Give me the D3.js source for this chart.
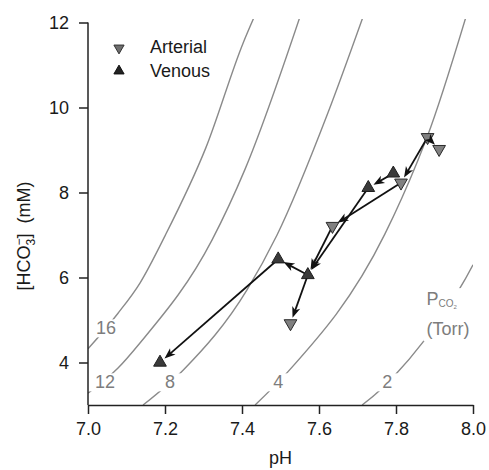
<!DOCTYPE html>
<html>
<head>
<meta charset="utf-8">
<script src="https://cdn.jsdelivr.net/npm/d3@7"></script>
<style>
body { margin: 0; background: #fff; }
svg { font-family: "Liberation Sans", Arial, sans-serif; }
</style>
</head>
<body>
<svg id="chart" width="489" height="470"></svg>
<script>
// samples
var artPH   = [7.882, 7.912, 7.813, 7.635, 7.526];
var artHCO3 = [9.30, 9.02, 8.23, 7.21, 4.92];
var venPH   = [7.793, 7.728, 7.494, 7.571, 7.187];
var venHCO3 = [8.45, 8.11, 6.43, 6.06, 4.00];

// arrows: a = arterial index, v = venous index
var arrowFrom = ["a0", "a0", "v0", "a2", "v1", "a3", "v3", "v3", "v2"];
var arrowTo   = ["a1", "a2", "v1", "a3", "v3", "v3", "v2", "a4", "v4"];

// PCO2 isopleths, points [pH, HCO3]
var pco2Levels = ["16", "12", "8", "4", "2"];
var iso16 = [[7.0, 4.32], [7.078, 5.16], [7.135, 5.87], [7.2, 6.98], [7.306, 9.05], [7.403, 11.52], [7.435, 12.2]];
var iso12 = [[7.0, 3.28], [7.078, 3.87], [7.135, 4.46], [7.322, 6.88], [7.408, 8.55], [7.553, 12.2]];
var iso8  = [[7.143, 3.0], [7.247, 3.82], [7.413, 5.71], [7.491, 7.0], [7.623, 9.87], [7.717, 12.2]];
var iso4  = [[7.434, 3.0], [7.519, 3.78], [7.771, 7.02], [7.857, 8.76], [7.881, 9.31], [7.984, 12.2]];
var iso2  = [[7.712, 3.0], [7.745, 3.24], [7.797, 3.70], [7.870, 4.48], [7.979, 5.95], [8.0, 6.30]];
var pco2LabelPH   = [7.047, 7.044, 7.213, 7.494, 7.777];
var pco2LabelHCO3 = [4.81, 3.54, 3.54, 3.54, 3.54];

var phTicks = [7.0, 7.2, 7.4, 7.6, 7.8, 8.0];
var hco3Ticks = [4, 6, 8, 10, 12];

var svg = d3.select("#chart");
var x = d3.scaleLinear().domain([7, 8]).range([88, 473]);
var y = d3.scaleLinear().domain([3, 12]).range([405, 22.5]);

svg.append("clipPath").attr("id", "plotClip")
  .append("rect").attr("x", x(7)).attr("y", 19)
  .attr("width", x(8) - x(7)).attr("height", y(3) - 19);

// isopleths
var line = d3.line().x(function(d) { return x(d[0]); }).y(function(d) { return y(d[1]); })
  .curve(d3.curveMonotoneX);
var isoG = svg.append("g").attr("clip-path", "url(#plotClip)");
isoG.selectAll("path").data([iso16, iso12, iso8, iso4, iso2]).enter().append("path")
  .attr("d", line).attr("fill", "none").attr("stroke", "#8a8a8a").attr("stroke-width", 1.4);

// labels on the isopleths, each on a white patch that breaks the curve
var labG = svg.append("g");
pco2Levels.forEach(function(lev, i) {
  var g = labG.append("g");
  var t = g.append("text").attr("x", x(pco2LabelPH[i])).attr("y", y(pco2LabelHCO3[i]))
    .attr("dy", "0.35em").attr("text-anchor", "middle")
    .attr("font-size", 18).attr("fill", "#7d7d7d").text(lev);
  var b = t.node().getBBox();
  g.insert("rect", "text").attr("x", b.x - 7).attr("y", b.y + 1)
    .attr("width", b.width + 14).attr("height", b.height - 2).attr("fill", "#fff");
});

// PCO2 (Torr) caption
var capG = svg.append("g");
var cx = x(7.879), cy = y(5.35);
var cap = capG.append("text").attr("x", cx).attr("y", cy).attr("font-size", 18).attr("fill", "#7d7d7d");
cap.append("tspan").text("P");
cap.append("tspan").attr("font-size", 10).attr("dy", 2).text("CO");
cap.append("tspan").attr("font-size", 6).attr("dy", 1.5).text("2");
capG.append("text").attr("x", cx).attr("y", cy + 30).attr("font-size", 18)
  .attr("fill", "#7d7d7d").text("(Torr)");
var cb = capG.node().getBBox();
capG.insert("rect", "text").attr("x", cb.x - 3).attr("y", cb.y - 1)
  .attr("width", cb.width + 4).attr("height", cb.height + 3).attr("fill", "#fff");

// axes
var xAxis = d3.axisBottom(x).tickValues(phTicks).tickFormat(d3.format(".1f"))
  .tickSize(9).tickSizeOuter(0).tickPadding(8);
var yAxis = d3.axisLeft(y).tickValues(hco3Ticks).tickSize(9).tickSizeOuter(0).tickPadding(10);
var gx = svg.append("g").attr("transform", "translate(0," + y(3) + ")").call(xAxis);
var gy = svg.append("g").attr("transform", "translate(" + x(7) + ",0)").call(yAxis);
[gx, gy].forEach(function(g) {
  g.selectAll("path, line").attr("stroke", "#222").attr("stroke-width", 1.5);
  g.selectAll("text").attr("font-size", 18).attr("fill", "#1a1a1a")
    .attr("font-family", "Liberation Sans, Arial, sans-serif");
});
gy.select(".domain").attr("d", "M0," + y(12) + "V" + y(3));

svg.append("text").attr("x", (x(7) + x(8)) / 2).attr("y", 464).attr("text-anchor", "middle")
  .attr("font-size", 18).attr("fill", "#1a1a1a").text("pH");

var yt = svg.append("text").attr("transform", "translate(30,236) rotate(-90)")
  .attr("text-anchor", "middle").attr("font-size", 18).attr("fill", "#1a1a1a");
yt.append("tspan").text("[HCO");
yt.append("tspan").attr("font-size", 12).attr("dy", 5).text("3");
yt.append("tspan").attr("font-size", 12).attr("dx", -6.7).attr("dy", -12).text("\u2212");
yt.append("tspan").attr("dy", 7).text("]\u00a0\u00a0(mM)");

// points + arrows
function pt(id) {
  var i = +id.slice(1);
  return id[0] === "a" ? [x(artPH[i]), y(artHCO3[i])] : [x(venPH[i]), y(venHCO3[i])];
}
var arrows = arrowFrom.map(function(f, i) {
  var s = pt(f), t = pt(arrowTo[i]);
  var dx = t[0] - s[0], dy = t[1] - s[1], len = Math.sqrt(dx * dx + dy * dy);
  var ux = dx / len, uy = dy / len;
  return { s: s, tip: [t[0] - ux * 6, t[1] - uy * 6], ux: ux, uy: uy,
           ang: Math.atan2(dy, dx) * 180 / Math.PI };
});

svg.append("g").selectAll("line").data(arrows).enter().append("line")
  .attr("x1", function(d) { return d.s[0]; }).attr("y1", function(d) { return d.s[1]; })
  .attr("x2", function(d) { return d.tip[0] - d.ux * 6; })
  .attr("y2", function(d) { return d.tip[1] - d.uy * 6; })
  .attr("stroke", "#111").attr("stroke-width", 1.8);

var tri = d3.symbol().type(d3.symbolTriangle);
svg.append("g").selectAll("path").data(artPH).enter().append("path")
  .attr("d", tri.size(70)())
  .attr("transform", function(d, i) { return "translate(" + x(d) + "," + y(artHCO3[i]) + ") rotate(180)"; })
  .attr("fill", "#808080").attr("stroke", "#2a2a2a").attr("stroke-width", 1);
svg.append("g").selectAll("path").data(venPH).enter().append("path")
  .attr("d", tri.size(70)())
  .attr("transform", function(d, i) { return "translate(" + x(d) + "," + y(venHCO3[i]) + ")"; })
  .attr("fill", "#3a3a3a").attr("stroke", "#1e1e1e").attr("stroke-width", 1);

svg.append("g").selectAll("path").data(arrows).enter().append("path")
  .attr("d", "M0,0L-11,-4.2L-8,0L-11,4.2Z")
  .attr("transform", function(d) { return "translate(" + d.tip[0] + "," + d.tip[1] + ") rotate(" + d.ang + ")"; })
  .attr("fill", "#111");

// legend
var leg = svg.append("g");
leg.append("path").attr("d", tri.size(45)()).attr("transform", "translate(119,48) rotate(180)")
  .attr("fill", "#6e6e6e").attr("stroke", "#333");
leg.append("path").attr("d", tri.size(45)()).attr("transform", "translate(119,71)")
  .attr("fill", "#222").attr("stroke", "#111");
leg.append("text").attr("x", 150).attr("y", 53).attr("font-size", 18).attr("fill", "#1a1a1a").text("Arterial");
leg.append("text").attr("x", 150).attr("y", 77).attr("font-size", 18).attr("fill", "#1a1a1a").text("Venous");
</script>
</body>
</html>
